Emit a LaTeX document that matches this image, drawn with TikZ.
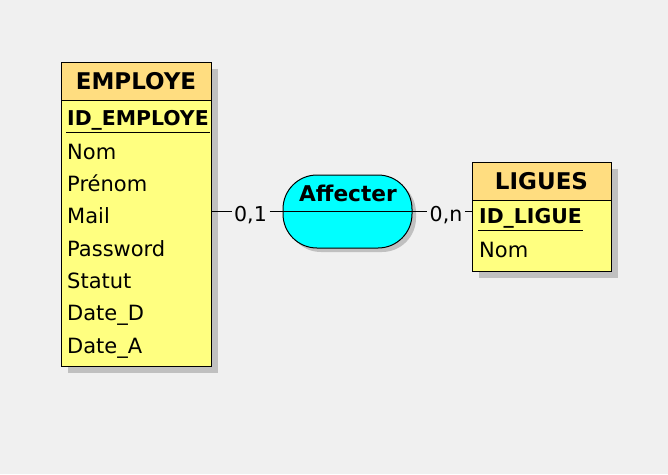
\documentclass[tikz,border=0pt]{standalone}
\usepackage{fontspec}
\setmainfont{DejaVu Sans}
\usetikzlibrary{positioning,calc,shadows}
\definecolor{bggray}{RGB}{240,240,240}
\definecolor{headorange}{RGB}{255,221,128}
\definecolor{bodyyellow}{RGB}{255,255,128}
\definecolor{relcyan}{RGB}{0,255,255}
\definecolor{shadowgray}{RGB}{192,192,192}

\begin{document}
\begin{tikzpicture}[x=1pt, y=-1pt,
    boxshadow/.style={drop shadow={shadow xshift=7pt, shadow yshift=-7pt, fill=shadowgray, opacity=1}},
    relshadow/.style={drop shadow={shadow xshift=4pt, shadow yshift=-4pt, fill=shadowgray, opacity=1}},
    head/.style={rectangle, draw, line width=1pt, fill=headorange, inner sep=0pt, outer sep=0pt, boxshadow},
    body/.style={rectangle, draw, line width=1pt, fill=bodyyellow, inner sep=0pt, outer sep=0pt, boxshadow},
    headtext/.style={font=\fontsize{23}{27}\selectfont\bfseries, inner sep=0pt},
    attr/.style={anchor=base west, font=\fontsize{21}{25}\selectfont, inner sep=0pt},
    key/.style={anchor=base west, font=\fontsize{20.4}{24}\selectfont\bfseries, inner sep=0pt},
    card/.style={anchor=base, font=\fontsize{20.5}{24}\selectfont, inner sep=2.5pt},
    relbox/.style={rectangle, rounded corners=34pt, draw, line width=1pt, fill=relcyan, minimum width=129pt, minimum height=73pt, relshadow},
    link/.style={line width=1pt}
]
    \fill[bggray] (0,0) rectangle (668,474);
    \useasboundingbox (0,0) rectangle (668,474);

    % EMPLOYE
    \node[head, minimum width=150pt, minimum height=38pt] (emphead) at (136,81) {};
    \node[headtext] (emptitle) at (emphead) {EMPLOYE};
    \node[body, minimum width=150pt, minimum height=266pt, below=0pt of emphead] (empbody) {};
    \node[key] (empid) at (67,125) {ID\_EMPLOYE};
    \draw[link] ($(empid.base west)+(-1,7)$) -- ($(empid.base east)+(1,7)$);
    \foreach \a [count=\i] in {Nom,Prénom,Mail,Password,Statut,Date\_D,Date\_A}
        \node[attr] (empattr\i) at (67,{127+32.3*\i}) {\a};

    % LIGUES
    \node[head, minimum width=139pt, minimum height=38pt] (lighead) at (541.5,181) {};
    \node[headtext] (ligtitle) at (lighead) {LIGUES};
    \node[body, minimum width=139pt, minimum height=71pt, below=0pt of lighead] (ligbody) {};
    \node[key] (ligid) at (479,223) {ID\_LIGUE};
    \draw[link] ($(ligid.base west)+(-1,7)$) -- ($(ligid.base east)+(1,7)$);
    \node[attr] (ligattr1) at (479,257) {Nom};

    % Affecter
    \node[relbox] (affecter) at (347.5,211.5) {};
    \draw[link] (affecter.west) -- (affecter.east);
    \node[anchor=base, font=\fontsize{21.7}{26}\selectfont\bfseries, inner sep=0pt] (afftitle) at (348,201) {Affecter};

    % pattes
    \node[card] (card1) at (250.5,221) {0,1};
    \node[card] (card2) at (446,221) {0,n};
    \draw[link] (empbody.east |- affecter.center) -- (card1.west |- affecter.center);
    \draw[link] (card1.east |- affecter.center) -- (affecter.west);
    \draw[link] (affecter.east) -- (card2.west |- affecter.center);
    \draw[link] (card2.east |- affecter.center) -- (ligbody.west |- affecter.center);
\end{tikzpicture}
\end{document}
